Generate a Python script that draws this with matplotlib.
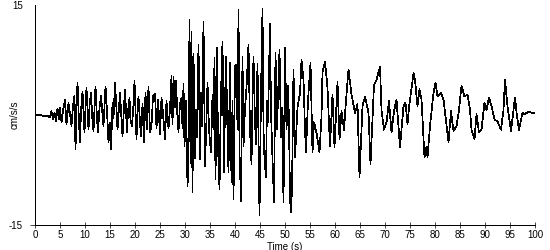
import matplotlib
matplotlib.use('Agg')
import matplotlib.pyplot as plt

# Acceleration record (time in s, acceleration in cm/s/s)
time1 = [0, 1, 2, 2.5, 3, 3.3, 3.6, 3.9, 4.2, 4.5,
         4.8, 5.0, 5.3, 5.6, 6.0, 6.3, 6.7, 7.0, 7.3, 7.6,
         7.9, 8.1, 8.3, 8.5, 8.8, 9.0, 9.2, 9.5, 9.9, 10.1,
         10.3, 10.7, 10.9, 11.2, 11.5, 11.7, 12.1, 12.4, 12.6, 12.9,
         13.2, 13.5, 13.7, 14.1, 14.4, 14.7, 15.0, 15.2, 15.5, 15.7,
         16.0, 16.3, 16.5, 16.8, 17.0, 17.3, 17.5, 17.8, 18.0, 18.4,
         18.6, 18.9, 19.1, 19.4, 19.7, 19.9]
acc1 = [0, 0, -0.2, -0.1, -0.3, 0.5, -0.6, 0.3, -0.8, 0.9,
        -0.5, 1.0, -1.0, 0.6, 2.1, -1.3, 1.6, 0.2, -1.5, 1.2,
        2.6, -4.7, 0.8, 4.4, -1.0, -3.7, 0.5, 3.2, -2.4, 1.0,
        3.7, -2.0, 1.2, 3.0, -0.8, -2.2, 3.9, -0.5, -2.4, 1.0,
        2.6, 0.2, -1.5, 3.9, 0.5, -3.7, -1.0, -4.7, 1.6, -0.5,
        4.4, 0.8, -2.0, 1.0, 3.0, -0.5, -2.9, 1.2, 3.5, -2.4,
        0.5, 2.3, -0.8, -1.5, 1.5, 4.6]

time2 = [20.3, 20.5, 20.7, 21.0, 21.2, 21.5, 21.8, 22.1, 22.4, 22.7,
         23.0, 23.3, 23.6, 24.0, 24.3, 24.6, 25.0, 25.3, 25.6, 26.0,
         26.3, 26.7, 27.0, 27.3, 27.5, 27.7, 28.0, 28.2, 28.5, 28.7,
         29.0, 29.3, 29.5, 29.7, 29.9, 30.2]
acc2 = [-3.3, 0.5, 2.5, -1.0, -2.9, 1.5, -3.7, 3.0, -2.0, 3.9,
        -2.4, -1.5, 2.6, 2.9, -1.8, 2.1, -2.6, 2.3, 0.2, -3.3,
        1.9, -1.8, 0.8, 5.3, -1.3, 5.2, 1.0, 4.7, -0.5, -2.3,
        1.6, 2.3, -1.8, 4.2, -4.3, 1.9]

time3 = [30.5, 30.7, 30.9, 31.1, 31.3, 31.5, 31.7, 32.0, 32.2, 32.4,
         32.7, 33.0, 33.2, 33.4, 33.7, 34.0, 34.3, 34.5, 34.8, 35.2,
         35.5, 35.7, 35.9, 36.1, 36.4, 36.6, 36.9, 37.2, 37.5, 37.8,
         38.0, 38.2, 38.5, 38.7, 39.0, 39.3, 39.5, 39.7, 40.0, 40.3,
         40.5, 40.7, 40.9, 41.2, 41.5, 41.7, 42.0, 42.3, 42.7, 43.0,
         43.3, 43.5, 43.7, 44.0, 44.2, 44.5, 44.9, 45.2, 45.5, 45.7,
         45.9, 46.2, 46.4, 46.6, 47.0, 47.2, 47.4, 47.8, 48.1, 48.4,
         48.6, 48.9, 49.2, 49.4, 49.7, 50.0, 50.3, 50.6, 50.8, 51.0,
         51.2, 51.4, 51.7, 52.0]
acc3 = [-9.7, -6.6, 13.0, -6.6, 11.4, -10.5, 8.4, -5.9, 0.7, -3.0,
        9.6, -6.0, 3.0, -1.5, 12.7, -7.0, -0.5, 4.4, -2.0, -5.1,
        2.8, -2.0, 7.8, -8.7, 9.1, -4.3, -10.1, 3.0, 10.0, -7.8,
        1.5, 8.0, -2.4, -7.8, 7.1, -9.2, 2.0, -11.5, 6.6, 6.9,
        -2.0, 14.3, -5.1, -11.7, 7.9, -4.3, 1.0, 3.7, 9.6, -2.0,
        -6.7, 2.0, 8.0, -1.0, -4.0, 7.0, -13.7, 3.0, 14.5, -2.0,
        -6.0, -8.5, 2.0, -1.0, 12.5, 0.5, -4.0, -11.9, 8.5, -2.0,
        2.5, 8.9, -3.0, 1.0, -11.9, 9.1, -2.0, 4.0, -1.0, -11.5,
        -13.2, -10.0, 6.2, -5.8]

time4 = [52.5, 53.0, 53.3, 53.7, 54.0, 54.2, 54.6, 55.1, 55.5, 55.8,
         56.3, 56.9, 57.3, 57.5, 58.0, 58.5, 59.0, 59.5, 59.9, 60.5,
         60.9, 61.3, 61.8, 62.2, 62.7, 63.3, 64.0, 64.5, 64.9, 65.5,
         66.0, 66.7, 67.1, 67.8, 68.3, 69.0, 69.3, 69.8, 70.3, 70.8,
         71.3, 71.8, 72.3, 73.0, 73.7, 74.1, 74.5, 74.8, 75.7, 76.0,
         76.5, 76.9, 77.3, 77.9, 78.3, 78.5, 79.0, 79.7, 80.1, 80.5,
         81.2, 81.7, 82.1, 82.7, 83.2, 83.7, 84.3, 84.8, 85.3, 85.9,
         86.5, 87.0, 87.3, 87.9, 88.3, 88.8, 89.3, 89.9, 90.3, 90.8,
         91.3, 91.9, 92.5, 93.2, 93.7, 94.0, 94.5, 95.2, 96.0, 96.4,
         96.8, 97.5, 98.0, 98.7, 99.3, 100.0]
acc4 = [1.0, 3.0, 7.5, 4.8, -2.0, -5.1, 2.0, 7.1, -5.1, -1.0,
        -2.4, -5.1, -0.2, 5.9, 7.3, 3.7, -4.3, 2.8, -4.4, 4.5,
        -3.3, 0.5, -2.0, 2.0, 6.2, 2.8, 0.3, 1.5, -8.5, 1.2,
        2.5, 0.3, -6.7, 4.1, 4.8, 6.6, 0.7, -2.0, -1.0, 1.9,
        -2.4, 0.5, 2.1, -4.4, 1.2, 1.7, -1.3, 1.0, 5.7, 4.8,
        1.2, 3.5, 2.1, -5.8, -4.3, -5.8, -1.5, 3.0, 4.4, 2.5,
        3.0, 2.1, -0.2, -3.7, 0.5, -2.2, -1.5, 0.7, 4.0, 2.5,
        2.8, 0.7, -2.0, -3.3, 0.1, -2.4, -2.0, 1.7, 0.7, 2.4,
        1.2, -0.6, -0.9, -2.0, 0.7, 4.8, 1.2, -2.2, 2.4, -0.2,
        -2.0, 0.3, 0.1, 0.5, 0.3, 0.3]

x_ticks = list(range(0, 101, 5))
y_ticks = [-15, 15]
x_label = "Time (s)"
y_label = "cm/s/s"

time = time1 + time2 + time3 + time4
acc = acc1 + acc2 + acc3 + acc4

plt.rcParams['font.family'] = ['Liberation Sans', 'DejaVu Sans']

W, H = 550, 250
LW = 0.5  # renders as a single pixel without antialiasing
fig = plt.figure(figsize=(W / 100, H / 100), dpi=100)
ax = fig.add_axes([35 / W, 25 / H, 500 / W, 220 / H])

ax.plot(time, acc, color='black', lw=LW, antialiased=False)

ax.set_xlim(0, 100)
ax.set_ylim(-15, 15)
ax.spines['top'].set_visible(False)
ax.spines['right'].set_visible(False)
for s in ('left', 'bottom'):
    ax.spines[s].set_linewidth(LW)
    ax.spines[s].set_antialiased(False)

ax.set_xticks(x_ticks)
ax.set_xticklabels([str(v) for v in x_ticks], fontsize=7)
ax.tick_params(axis='x', direction='inout', length=5, width=LW, pad=1)
ax.set_yticks(y_ticks)
ax.set_yticklabels([str(v) for v in y_ticks], fontsize=7)
ax.tick_params(axis='y', direction='out', length=3.6, width=LW, pad=5)
ax.yaxis.get_major_ticks()[1].tick1line.set_visible(False)

ax.set_xlabel(x_label, fontsize=7)
ax.xaxis.set_label_coords(0.5, -(246.5 - 225) / 220, transform=ax.transAxes)
ax.xaxis.label.set_verticalalignment('center')
ax.set_ylabel(y_label, fontsize=7)
ax.yaxis.set_label_coords(-20 / 500, 0.5, transform=ax.transAxes)
ax.yaxis.label.set_verticalalignment('center')

fig.savefig('out.png', dpi=100)
